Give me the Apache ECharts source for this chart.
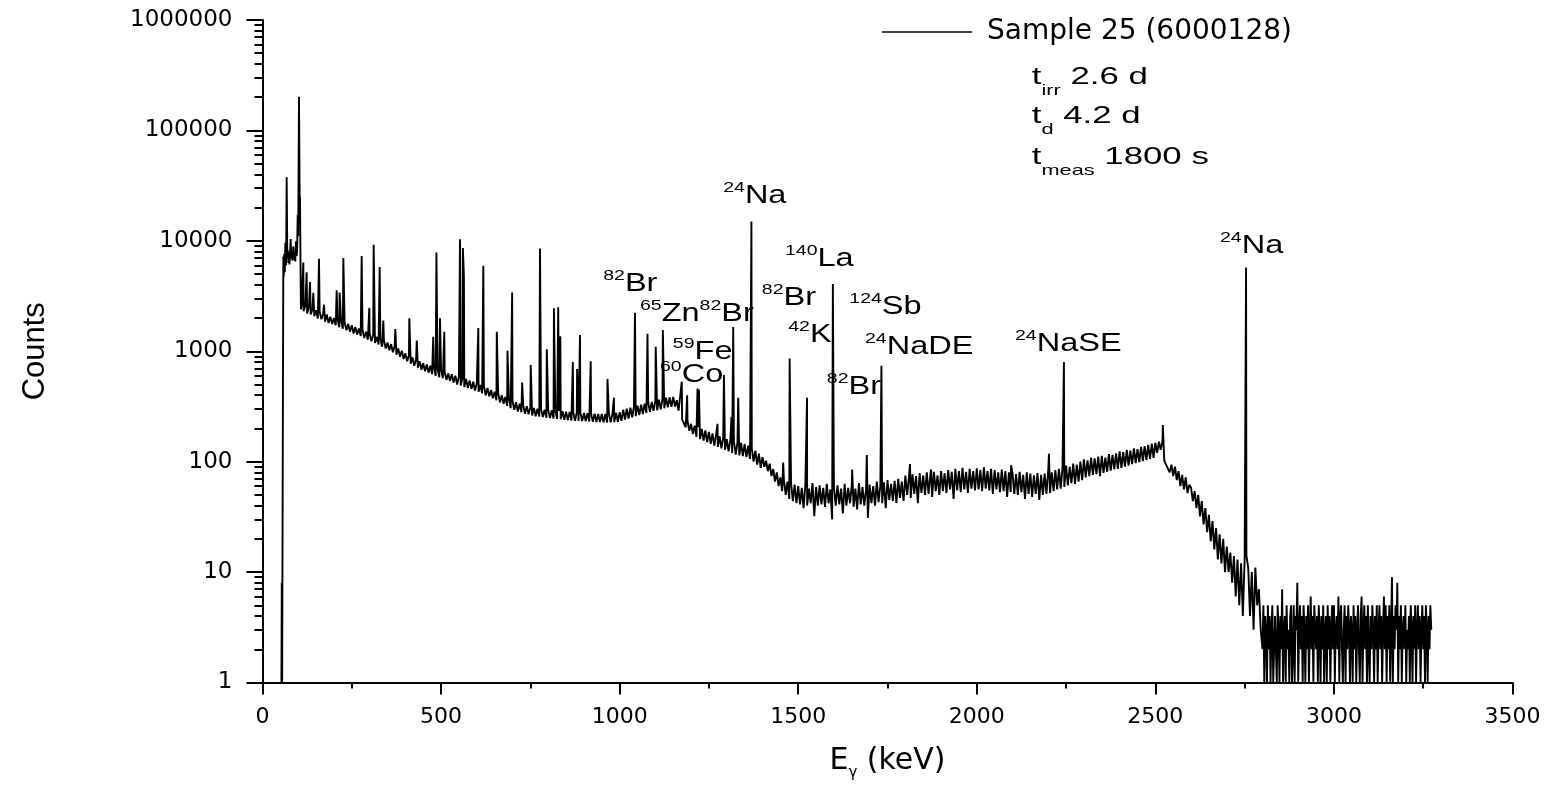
<!DOCTYPE html>
<html><head><meta charset="utf-8">
<script src="https://cdn.jsdelivr.net/npm/echarts@6.0.0/dist/echarts.min.js"></script>
<style>html,body{margin:0;padding:0;background:#fff}#c{width:1560px;height:786px}</style>
</head><body><div id="c"></div>
<script>
// ---------- data ----------
const seriesName = 'Sample 25 (6000128)';

// low-energy part of the spectrum: [E (keV), counts]
const lowEnergy = [[53,1],[54,8],[55,1],[57,1],[58.3,7200],[59.5,4750],[61,7600],[62.5,5200],[64,9600],[66,6000],[67.7,37700],[69.5,7000],[71,8200],[72.5,6300],[74,7800],[75.5,6100],[77,7400],[78.9,10400],[80.5,6900],[82,7600],[84,6600],[86.3,8900],[88,6800],[90,7400],[91.8,6500],[93.8,9900],[95.5,7300],[97,8200],[98.5,17200],[100,11000],[102.2,202000],[104,26000],[105,24300],[106.2,7700],[107.6,2400]];

// continuum channels, 5 keV apart
const channelStep = 5;
const startA = 110;   // 110 .. 1395 keV
const countsA = [
2650,2300,2600,2200,2500,2150,2420,2080,2350,1980,2280,1950,2200,1850,2150,1800,2050,1760,2000,1720,
1950,1650,1880,1600,1820,1550,1770,1500,1720,1450,1660,1420,1610,1370,1560,1320,1500,1270,1450,1230,
1400,1190,1350,1150,1300,1100,1250,1060,1200,1020,1160,980,1110,930,1060,890,1010,850,960,810,
920,770,880,740,840,710,810,680,780,660,760,640,740,620,720,600,700,580,680,570,
650,550,630,540,620,520,600,500,590,490,575,475,560,465,545,455,530,440,510,430,
495,415,480,400,465,390,445,375,430,360,415,345,400,335,385,320,370,305,355,295,
345,285,335,280,325,272,318,268,312,262,306,258,302,256,298,254,296,250,294,248,
292,246,290,244,288,242,286,240,284,238,282,236,280,235,279,234,278,233,276,232,
275,231,274,230,272,229,270,228,270,227,270,226,271,227,273,228,276,230,280,234,
295,240,302,246,308,252,315,258,322,264,328,270,335,276,342,282,348,288,355,292,
365,298,372,304,380,310,384,314,386,316,360,290,290,240,250,205,235,190,220,178,
212,168,205,160,198,155,192,150,186,145,180,140,175,136,170,132,165,128,160,124,
156,120,152,116,150,114,148,112,144,110,140,106,132,100,126,94,118,88];
const startB = 1400;  // 1400 .. 2795 keV
const countsB = [
110,90,102,82,96,74,86,66,80,60,72,54,68,50,66,46,64,44,62,42,
60,41,58,38,62,40,57,42,64,32,59,40,61,41,58,39,63,42,56,30,
59,40,61,41,57,34,63,40,58,42,61,39,57,37,64,41,59,40,56,31,
62,42,60,40,66,43,61,42,65,38,68,45,63,44,67,42,70,47,66,44,
75,50,72,47,77,51,74,42,79,52,75,50,80,51,76,48,81,54,75,50,
82,54,79,52,84,56,81,46,86,55,82,53,88,56,81,52,86,57,82,55,
87,56,84,54,89,57,82,55,86,51,84,56,80,53,85,54,82,48,80,53,
79,51,77,50,81,53,76,46,80,51,78,48,75,51,79,45,76,50,78,51,
82,52,80,54,84,56,86,57,88,59,92,61,90,64,96,63,94,66,100,68,
105,72,103,74,109,76,107,77,111,74,113,79,109,81,117,83,115,85,119,86,
124,88,122,90,128,92,126,95,132,97,130,99,136,101,138,103,142,106,146,108,
148,120,152,128,154,102,94,96,80,94,74,90,68,82,60,76,56,72,52,62,
58,44,54,38,50,32,44,27,38,23,33,19,29,16,25,13,22,12,20,10,
17,10,15,8,14,6,13,5,12,4,13,14,11,4,10,3,11,5,7,3];
const stepC = 2.5;
const startC = 2800;  // 2800 .. 3272.5 keV (zero counts drawn at the axis floor)
const countsC = [
2,5,1,4,3,1,5,2,4,1,3,5,1,2,4,4,1,5,3,1,
4,2,7,1,3,4,1,5,2,3,1,4,5,1,2,5,1,4,3,8,
1,3,5,2,4,1,5,3,1,4,2,5,1,3,6,2,4,1,5,3,
2,4,1,5,3,1,4,2,5,1,3,4,1,5,2,4,1,3,5,2,
5,1,3,4,2,6,1,4,5,2,1,3,5,1,4,2,5,3,1,4,
3,1,5,2,4,1,3,5,2,1,4,6,1,3,5,2,4,1,5,2,
1,4,2,5,3,1,4,2,5,1,3,5,2,4,1,3,6,2,5,1,
4,2,5,1,3,9,1,4,2,5,3,8,1,4,2,5,1,3,4,2,
5,1,3,2,4,1,5,3,1,4,2,5,1,3,5,2,4,1,3,5,
2,4,1,5,3,1,4,2,5,3];

// photopeak tops
const peakE = [114.3,123.6,133,142.3,158.2,172.2,207.7,216,226.3,277.7,299.1,311.3,328.1,338.3,371.9,411.1,432,478,487,497,509,553,561,564,604.3,618.3,656,686,699,727,751,777,796,816,828,834,869,881,889,919,966,984,1043,1078,1101,1121,1174,1189,1218,1222,1274,1292,1313,1318,1332,1369,1458,1476,1524.7,1597,1651,1692,1733,1813,1872,2096,2202,2244,2521,2754];
const peakCounts = [6370,5180,4230,3380,6880,2640,3560,3400,6970,7300,2470,9200,5800,1900,1590,1990,1250,1350,7830,1990,1500,10350,8600,4750,1620,5940,1500,1010,3400,520,750,8500,1040,2450,2500,1370,800,690,1400,810,560,380,2230,1440,1100,1560,530,400,460,450,220,610,255,1660,380,14960,98,860,380,4060,85,115,740,95,85,93,118,800,215,5740];

// axis ticks
const yDecades = [1,10,100,1000,10000,100000,1000000];

// annotations: [superscript, text, ...] with anchor (E keV, counts)
const labelParts = [['24','Na'],['82','Br'],['65','Zn','82','Br'],['59','Fe'],['60','Co'],['140','La'],['82','Br'],['42','K'],['124','Sb'],['24','NaDE'],['82','Br'],['24','NaSE'],['24','Na']];
const labelE = [1290,954,1057,1149,1113,1463,1398,1472,1643,1687,1580,2107,2681];
const labelC = [25500,4080,2185,989,613,6870,3050,1410,2530,1099,477,1169,9010];

const infoLines = [['t','irr',' 2.6 d'],['t','d',' 4.2 d'],['t','meas',' 1800 s']];
const infoE = 2154;
const infoC = [304900,135300,57570];

// ---------- build ----------
const spectrum = lowEnergy.slice();
countsA.forEach((c,i)=>spectrum.push([startA+i*channelStep,c]));
countsB.forEach((c,i)=>spectrum.push([startB+i*channelStep,c]));
countsC.forEach((c,i)=>spectrum.push([startC+i*stepC,c]));
peakE.forEach((e,i)=>spectrum.push([e,peakCounts[i]]));
spectrum.sort((a,b)=>a[0]-b[0]);

const yMinor = [];
yDecades.slice(0,-1).forEach(d=>{for(let k=2;k<=9;k++) yMinor.push(d*k);});

const chart = echarts.init(document.getElementById('c'), null, {renderer:'canvas'});
const black = '#000';
chart.setOption({
  animation:false,
  backgroundColor:'#fff',
  grid:{left:262.5,right:47.5,top:20,bottom:103,containLabel:false},
  legend:{data:[seriesName],left:882,top:18,padding:0,itemWidth:90,itemHeight:1.5,icon:'rect',selectedMode:false,
    textStyle:{fontSize:28,fontFamily:'DejaVu Sans',color:black,padding:[0,0,0,10]}},
  xAxis:{type:'value',min:0,max:3500,interval:500,
    axisLine:{onZero:false,lineStyle:{color:black,width:2}},
    axisTick:{length:12,lineStyle:{color:black,width:2}},
    minorTick:{show:true,splitNumber:2,length:6,lineStyle:{color:black,width:2}},
    axisLabel:{margin:24,fontSize:22,fontFamily:'DejaVu Sans',color:black,formatter:v=>String(v)},
    splitLine:{show:false},
    name:'E{g|γ} (keV)',nameLocation:'middle',nameGap:64,
    nameTextStyle:{fontSize:30,fontFamily:'DejaVu Sans',color:black,
      rich:{g:{fontSize:15,fontFamily:'DejaVu Sans',color:black,lineHeight:15,padding:[24,0,0,0]}}}},
  yAxis:[{type:'log',logBase:10,min:1,max:1000000,
    axisLine:{onZero:false,lineStyle:{color:black,width:2}},
    axisTick:{length:16,lineStyle:{color:black,width:2}},
    axisLabel:{margin:30,fontSize:23,fontFamily:'DejaVu Sans',color:black,formatter:v=>String(Math.round(v))},
    splitLine:{show:false},
    name:'Counts',nameLocation:'middle',nameRotate:90,nameGap:212,
    nameTextStyle:{fontSize:31,fontFamily:'Liberation Sans',color:black}},
   {type:'log',logBase:10,min:1,max:1000000,position:'left',
    axisLine:{show:false},axisLabel:{show:false},splitLine:{show:false},
    axisTick:{show:true,length:8,customValues:yMinor,lineStyle:{color:black,width:2}}}],
  series:[{name:seriesName,type:'line',data:spectrum,yAxisIndex:0,showSymbol:false,symbol:'none',
    lineStyle:{color:black,width:1.9},itemStyle:{color:black},emphasis:{disabled:true},silent:true}]
});

// annotations placed through the chart's own scales
const supStyle = {fontSize:15,fontFamily:'Liberation Sans',lineHeight:14,padding:[0,0,16,0],fill:black};
const mainStyle = {fontSize:25,fontFamily:'Liberation Sans',lineHeight:30,fill:black};
const graphics = [];
labelParts.forEach((parts,i)=>{
  let t='';
  for(let k=0;k<parts.length;k+=2) t+='{sup|'+parts[k]+'}{m|'+parts[k+1]+'}';
  const p = chart.convertToPixel({gridIndex:0},[labelE[i],labelC[i]]);
  graphics.push({type:'text',x:p[0],y:p[1],scaleX:1.3,silent:true,
    style:{text:t,align:'left',verticalAlign:'middle',fontSize:25,fontFamily:'Liberation Sans',fill:black,
      rich:{sup:supStyle,m:mainStyle}}});
});
infoLines.forEach((parts,i)=>{
  const p = chart.convertToPixel({gridIndex:0},[infoE,infoC[i]]);
  graphics.push({type:'text',x:p[0],y:p[1],scaleX:1.45,silent:true,
    style:{text:'{m|'+parts[0]+'}{s|'+parts[1]+'}{m|'+parts[2]+'}',align:'left',verticalAlign:'middle',
      fontSize:24,fontFamily:'Liberation Sans',fill:black,
      rich:{m:{fontSize:24,fontFamily:'Liberation Sans',lineHeight:42,fill:black},
            s:{fontSize:15,fontFamily:'Liberation Sans',lineHeight:14,padding:[28,0,0,0],fill:black}}}});
});
chart.setOption({graphic:graphics});
</script></body></html>
